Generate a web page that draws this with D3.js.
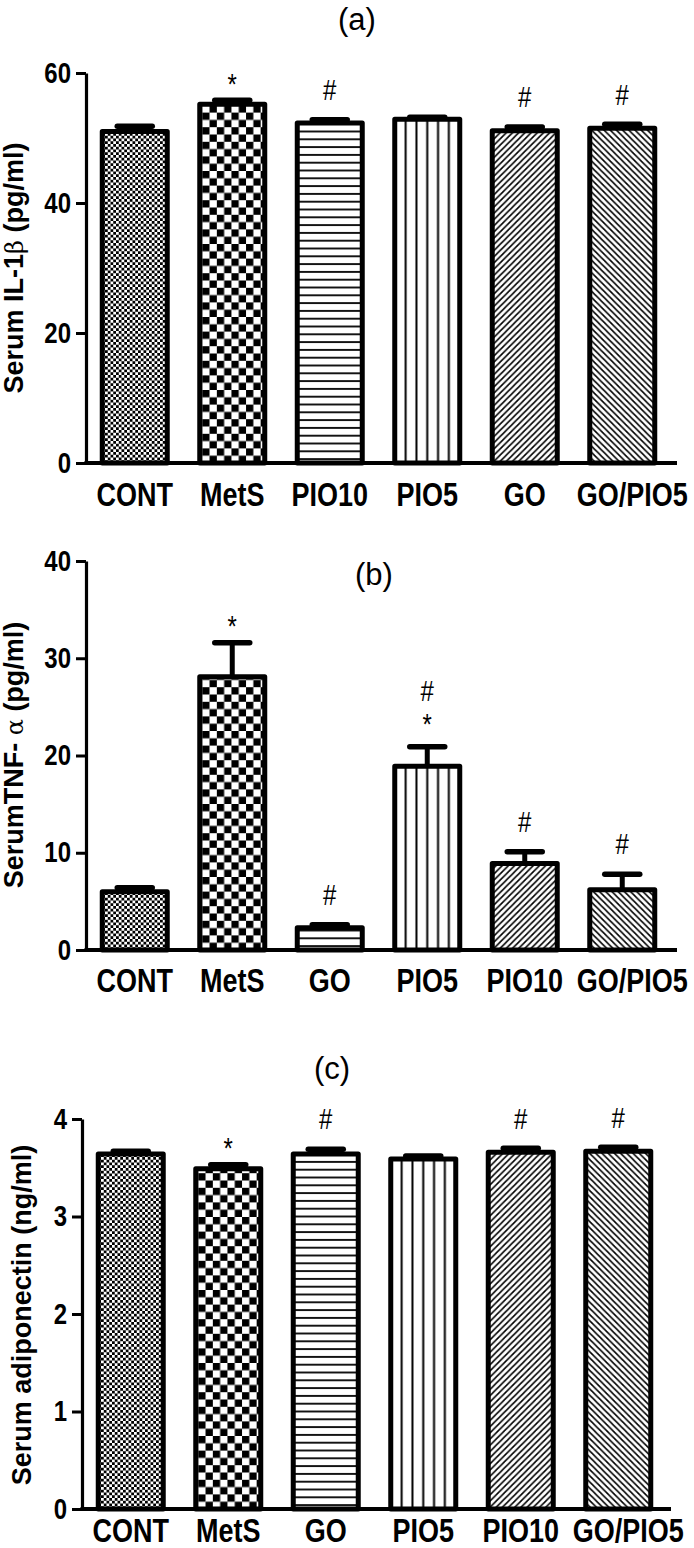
<!DOCTYPE html>
<html><head><meta charset="utf-8">
<script src="https://cdn.jsdelivr.net/npm/d3@7"></script>
<style>body{margin:0;background:#fff} svg{display:block}</style>
</head><body>
<svg id="chart" width="694" height="1548"></svg>
<script>
// ---------- data ----------
const catsA = ["CONT","MetS","PIO10","PIO5","GO","GO/PIO5"];
const meanA = [51.0, 55.2, 52.3, 52.9, 51.1, 51.5];
const semA  = [0.8, 0.6, 0.5, 0.3, 0.6, 0.6];
const sigA  = [[], ["*"], ["#"], [], ["#"], ["#"]];
const ticksA = [0, 20, 40, 60];

const catsB = ["CONT","MetS","GO","PIO5","PIO10","GO/PIO5"];
const meanB = [6.0, 28.1, 2.3, 18.9, 8.9, 6.2];
const semB  = [0.4, 3.5, 0.3, 2.0, 1.2, 1.6];
const sigB  = [[], ["*"], ["#"], ["#","*"], ["#"], ["#"]];
const ticksB = [0, 10, 20, 30, 40];

const catsC = ["CONT","MetS","GO","PIO5","PIO10","GO/PIO5"];
const meanC = [3.64, 3.49, 3.64, 3.59, 3.66, 3.67];
const semC  = [0.03, 0.04, 0.05, 0.03, 0.04, 0.04];
const sigC  = [[], ["*"], ["#"], [], ["#"], ["#"]];
const ticksC = [0, 1, 2, 3, 4];

// ---------- layout ----------
const FONT = "'Liberation Sans', Arial, Helvetica, sans-serif";
const SY = 1.2; // vertical stretch of the original figure's text
const LAST_LABEL_SHIFT = 10; // last category label sits right of its bar in the original
const svg = d3.select("#chart");
const defs = svg.append("defs");

const panels = [
  {id:"a", title:"(a)", titleX:357, titleY:30, cats:catsA, mean:meanA, sem:semA, sig:sigA, ticks:ticksA, max:60,
   axisX:86, axisEnd:677, top:73, base:463, catY:506, ylab:["Serum IL-1","β"," (pg/ml)"], ylabX:23, ylabY:268},
  {id:"b", title:"(b)", titleX:374, titleY:585, cats:catsB, mean:meanB, sem:semB, sig:sigB, ticks:ticksB, max:40,
   axisX:86, axisEnd:677, top:561, base:950, catY:992, ylab:["SerumTNF- ","α"," (pg/ml)"], ylabX:23, ylabY:755},
  {id:"c", title:"(c)", titleX:332, titleY:1079, cats:catsC, mean:meanC, sem:semC, sig:sigC, ticks:ticksC, max:4,
   axisX:82, axisEnd:671, top:1119, base:1509, catY:1542, ylab:["Serum adiponectin (ng/ml)"], ylabX:31, ylabY:1315}
];

function makePatterns(p, x) {
  const bw = x.bandwidth();
  // 0: fine checker
  let pt = defs.append("pattern").attr("id", p.id+"-p0").attr("patternUnits","userSpaceOnUse")
    .attr("width",5.5).attr("height",5.5).attr("x", x(0)).attr("y", p.base);
  pt.append("rect").attr("width",5.5).attr("height",5.5).attr("fill","#fff");
  pt.append("rect").attr("width",2.75).attr("height",2.75).attr("fill","#000");
  pt.append("rect").attr("x",2.75).attr("y",2.75).attr("width",2.75).attr("height",2.75).attr("fill","#000");
  // 1: coarse checker
  pt = defs.append("pattern").attr("id", p.id+"-p1").attr("patternUnits","userSpaceOnUse")
    .attr("width",14.6).attr("height",14.6).attr("x", x(1)+2.5).attr("y", p.base);
  pt.append("rect").attr("width",14.6).attr("height",14.6).attr("fill","#fff");
  pt.append("rect").attr("width",7.3).attr("height",7.3).attr("fill","#000");
  pt.append("rect").attr("x",7.3).attr("y",7.3).attr("width",7.3).attr("height",7.3).attr("fill","#000");
  // 2: horizontal lines
  pt = defs.append("pattern").attr("id", p.id+"-p2").attr("patternUnits","userSpaceOnUse")
    .attr("width",10).attr("height",7.8).attr("x",0).attr("y", p.base);
  pt.append("rect").attr("width",10).attr("height",7.8).attr("fill","#fff");
  pt.append("rect").attr("y",3).attr("width",10).attr("height",1.8).attr("fill","#000");
  // 3: vertical lines
  const c3 = x(3) + bw/2;
  pt = defs.append("pattern").attr("id", p.id+"-p3").attr("patternUnits","userSpaceOnUse")
    .attr("width",10.8).attr("height",10).attr("x", c3-5.4).attr("y",0);
  pt.append("rect").attr("width",10.8).attr("height",10).attr("fill","#fff");
  pt.append("rect").attr("x",4.4).attr("width",2).attr("height",10).attr("fill","#000");
  // 4: forward diagonal
  const d = 6.2;
  pt = defs.append("pattern").attr("id", p.id+"-p4").attr("patternUnits","userSpaceOnUse")
    .attr("width",d).attr("height",d).attr("x", x(4)).attr("y", p.base);
  pt.append("rect").attr("width",d).attr("height",d).attr("fill","#fff");
  pt.append("path").attr("d",`M${-d/2},${d/2} L${d/2},${-d/2} M0,${d} L${d},0 M${d/2},${d*1.5} L${d*1.5},${d/2}`)
    .attr("stroke","#000").attr("stroke-width",1.6);
  // 5: back diagonal
  pt = defs.append("pattern").attr("id", p.id+"-p5").attr("patternUnits","userSpaceOnUse")
    .attr("width",d).attr("height",d).attr("x", x(5)).attr("y", p.base);
  pt.append("rect").attr("width",d).attr("height",d).attr("fill","#fff");
  pt.append("path").attr("d",`M${-d/2},${d/2} L${d/2},${d*1.5} M0,0 L${d},${d} M${d/2},${-d/2} L${d*1.5},${d/2}`)
    .attr("stroke","#000").attr("stroke-width",1.6);
}

function stretchedText(g, x, y, txt, size, bold) {
  return g.append("text").attr("transform", `translate(${x},${y}) scale(1,${SY})`)
    .attr("text-anchor","middle").attr("font-family",FONT)
    .attr("font-weight", bold ? "bold" : "normal").attr("font-size",size).text(txt);
}

panels.forEach(p => {
  const g = svg.append("g");
  const idx = p.cats.map((c,i)=>i);
  const x = d3.scaleBand().domain(idx).range([p.axisX, p.axisX + 585]).paddingInner(1/3).paddingOuter(1/6);
  const y = d3.scaleLinear().domain([0, p.max]).range([p.base, p.top]);
  const bw = x.bandwidth();
  makePatterns(p, x);

  // title
  g.append("text").attr("x",p.titleX).attr("y",p.titleY).attr("text-anchor","middle")
    .attr("font-family", FONT).attr("font-size", 31).text(p.title);

  // error bars (upper only)
  const eb = g.append("g");
  idx.forEach(i => {
    const cx = x(i) + bw/2;
    eb.append("line").attr("x1",cx).attr("x2",cx).attr("y1",y(p.mean[i])).attr("y2",y(p.mean[i]+p.sem[i]))
      .attr("stroke","#000").attr("stroke-width",5);
    eb.append("line").attr("x1",cx-17.5).attr("x2",cx+17.5).attr("y1",y(p.mean[i]+p.sem[i])).attr("y2",y(p.mean[i]+p.sem[i]))
      .attr("stroke","#000").attr("stroke-width",5.5).attr("stroke-linecap","round");
  });

  // bars
  g.append("g").selectAll("rect").data(idx).join("rect")
    .attr("x", i => x(i)).attr("width", bw)
    .attr("y", i => y(p.mean[i])).attr("height", i => p.base - y(p.mean[i]))
    .attr("fill", i => `url(#${p.id}-p${i})`)
    .attr("stroke","#000").attr("stroke-width",5).attr("stroke-linejoin","round");

  // significance marks
  idx.forEach(i => {
    const cx = x(i) + bw/2;
    const yc = y(p.mean[i]+p.sem[i]) - 2.75;
    const s = p.sig[i];
    if (s.length === 1) {
      stretchedText(g, cx, s[0]==="*" ? yc-4 : yc-17, s[0], 24, false);
    } else if (s.length === 2) {
      stretchedText(g, cx, yc-10, s[1], 24, false);
      stretchedText(g, cx, yc-43, s[0], 24, false);
    }
  });

  // y axis
  const ax = g.append("g").attr("transform",`translate(${p.axisX},0)`)
    .call(d3.axisLeft(y).tickValues(p.ticks).tickFormat(d3.format("d")).tickSize(10).tickSizeOuter(0).tickPadding(5));
  ax.select(".domain").attr("stroke","#000").attr("stroke-width",3.2);
  ax.selectAll(".tick line").attr("stroke","#000").attr("stroke-width",3);
  ax.selectAll(".tick text").attr("font-family",FONT).attr("font-weight","bold").attr("font-size",24)
    .attr("fill","#000").attr("transform",`scale(1,${SY})`);

  // baseline
  g.append("line").attr("x1",p.axisX-1.5).attr("x2",p.axisEnd).attr("y1",p.base).attr("y2",p.base)
    .attr("stroke","#000").attr("stroke-width",4);

  // category labels
  idx.forEach(i => stretchedText(g, x(i) + bw/2 + (i === idx.length-1 ? LAST_LABEL_SHIFT : 0), p.catY, p.cats[i], 27, true));

  // y label
  const yl = g.append("text").attr("transform",`translate(${p.ylabX},${p.ylabY}) rotate(-90)`)
    .attr("text-anchor","middle").attr("font-family",FONT).attr("font-weight","bold").attr("font-size",27);
  p.ylab.forEach((t,k) => {
    const ts = yl.append("tspan").text(t);
    if (p.ylab.length === 3 && k === 1) ts.attr("font-family","'DejaVu Serif', 'Liberation Serif', serif").attr("font-weight","normal").attr("font-size",24);
  });
});
</script>
</body></html>
